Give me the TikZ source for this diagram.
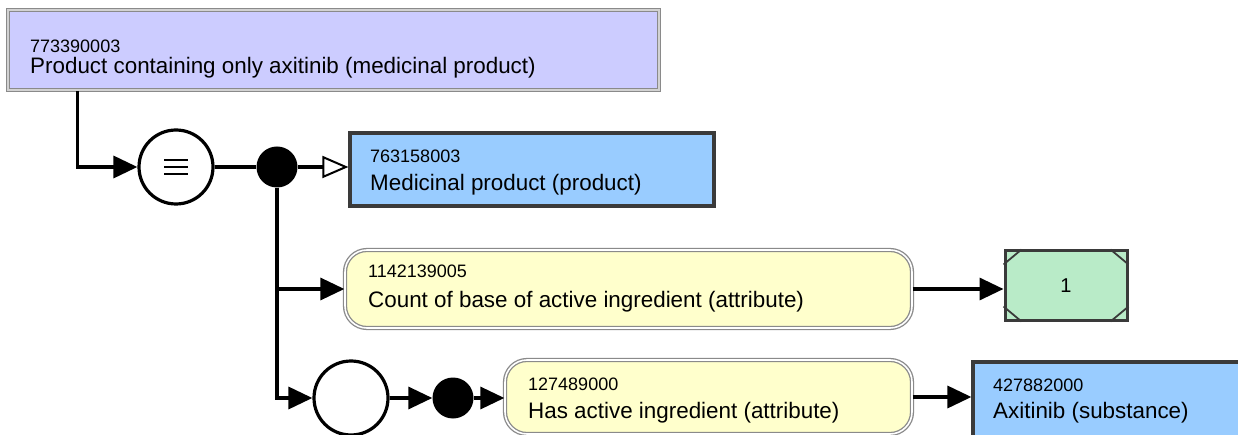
\documentclass[tikz,border=0pt]{standalone}
\usepackage{fontspec}
\setmainfont{Liberation Sans}
\usetikzlibrary{arrows.meta}
\definecolor{purplefill}{HTML}{CCCCFF}
\definecolor{bluefill}{HTML}{99CCFF}
\definecolor{yellowfill}{HTML}{FFFFCC}
\definecolor{greenfill}{HTML}{B9EBC8}
\definecolor{edgegrey}{HTML}{8A8A8A}
\definecolor{darkedge}{HTML}{3A3A3A}
\begin{document}
\begin{tikzpicture}[x=1pt,y=-1pt,
  defbox/.style={draw=edgegrey, double=gray!35, double distance=1.4pt, line width=1.6pt, fill=purplefill, inner sep=0pt},
  primbox/.style={draw=darkedge, line width=3.2pt, fill=bluefill, inner sep=0pt},
  attrbox/.style={draw=edgegrey, double=white, double distance=1.6pt, line width=1.3pt, fill=yellowfill, rounded corners=22pt, inner sep=0pt},
  valbox/.style={draw=darkedge, line width=3pt, fill=greenfill, inner sep=0pt},
  idtext/.style={anchor=base west, inner sep=0pt, font=\fontsize{18}{20}\selectfont},
  nametext/.style={anchor=base west, inner sep=0pt, font=\fontsize{22.4}{25}\selectfont},
  conn/.style={line width=3.4pt, black},
  tip/.style={-{Triangle[length=24pt,width=22pt]}},
  opentip/.style={-{Triangle[open,length=26pt,width=22pt,line width=2pt,fill=white]}},
  opcirc/.style={circle, draw, line width=3.2pt, fill=white, minimum size=74pt, inner sep=0pt},
  dotnode/.style={circle, fill=black, minimum size=41pt, inner sep=0pt}]
\useasboundingbox (0,0) rectangle (1238,435);

% top defined concept
\node[defbox, minimum width=651pt, minimum height=80pt] (top) at (333.5,50) {};
\node[idtext] (topid) at (30,53) {773390003};
\node[nametext] (topname) at (30,74) {Product containing only axitinib (medicinal product)};

% equivalence and group
\node[opcirc] (eq) at (176,167) {};
\draw[line width=2.6pt] ([shift={(-12,-7)}]eq.center) -- ([shift={(12,-7)}]eq.center);
\draw[line width=2.6pt] ([shift={(-12,0)}]eq.center) -- ([shift={(12,0)}]eq.center);
\draw[line width=2.6pt] ([shift={(-12,7)}]eq.center) -- ([shift={(12,7)}]eq.center);
\node[dotnode] (d1) at (277,167) {};

% parent
\node[primbox, minimum width=364pt, minimum height=73pt] (mp) at (532,169.5) {};
\node[idtext] (mpid) at (370,163) {763158003};
\node[nametext] (mpname) at (370,191) {Medicinal product (product)};

% count attribute
\node[attrbox, minimum width=567pt, minimum height=78pt] (ya) at (628.5,289) {};
\node[idtext] (yaid) at (368,278) {1142139005};
\node[nametext] (yaname) at (368,307) {Count of base of active ingredient (attribute)};
\node[valbox, minimum width=122pt, minimum height=69pt, font=\fontsize{20}{22}\selectfont] (gr) at (1066,285.5) {1};
\draw[darkedge, line width=1.8pt] ([yshift=-15pt]gr.north west) -- ([xshift=18pt]gr.north west);
\draw[darkedge, line width=1.8pt] ([yshift=-15pt]gr.north east) -- ([xshift=-18pt]gr.north east);
\draw[darkedge, line width=1.8pt] ([yshift=15pt]gr.south west) -- ([xshift=18pt]gr.south west);
\draw[darkedge, line width=1.8pt] ([yshift=15pt]gr.south east) -- ([xshift=-18pt]gr.south east);

% role group
\node[opcirc] (eq2) at (351,398) {};
\node[dotnode] (d2) at (453,398) {};
\node[attrbox, minimum width=407pt, minimum height=74pt] (yb) at (708.5,397) {};
\node[idtext] (ybid) at (528,390) {127489000};
\node[nametext] (ybname) at (528,418) {Has active ingredient (attribute)};
\node[primbox, minimum width=277pt, minimum height=78pt] (sub) at (1111.5,401) {};
\node[idtext] (subid) at (993,391) {427882000};
\node[nametext] (subname) at (993,418) {Axitinib (substance)};

% connectors
\draw[conn, tip] ([xshift=70pt]top.south west) |- (eq.west);
\draw[conn] (eq.east) -- (d1.west);
\draw[conn, opentip] (d1.east) -- (d1.east -| mp.west);
\draw[conn, tip] (d1.south) |- (eq2.west);
\draw[conn, tip] (d1 |- ya.west) -- (ya.west);
\draw[conn, tip] (ya.east) -- (ya.east -| gr.west);
\draw[conn, tip] (eq2.east) -- (d2.west);
\draw[conn, tip] (d2.east) -- (d2.east -| yb.west);
\draw[conn, tip] (yb.east) -- (yb.east -| sub.west);
\end{tikzpicture}
\end{document}
